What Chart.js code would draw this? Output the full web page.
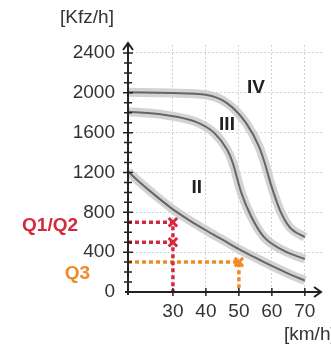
<!DOCTYPE html>
<html>
<head>
<meta charset="utf-8">
<script src="https://cdn.jsdelivr.net/npm/chart.js@4"></script>
<style>
  html, body { margin: 0; padding: 0; background: #fff; }
</style>
</head>
<body>
<canvas id="chart" width="331" height="347"></canvas>
<script>
// curve II / III / IV : speed [km/h] -> volume [Kfz/h]
const speedII = [16.4, 20, 25, 30, 35, 40, 45, 50, 55, 60, 65, 70];
const volumeII = [1210, 1100, 960, 830, 720, 620, 525, 430, 345, 262, 185, 115];
const speedIII = [16.4, 27.1, 36.8, 42.6, 46.4, 48, 50.8, 53.7, 57.5, 63.3, 70];
const volumeIII = [1810, 1780, 1710, 1595, 1430, 1310, 990, 760, 555, 420, 330];
const speedIV = [16.4, 30, 40, 46.4, 52.2, 56.1, 57.5, 59.9, 62.4, 65.3, 70];
const volumeIV = [2005, 1998, 1980, 1896, 1695, 1460, 1330, 1060, 825, 655, 550];

// operating points
const qSpeed = [30, 30, 50];
const qVolume = [700, 500, 300];

const xTicks = [30, 40, 50, 60, 70];
const yTicks = [0, 400, 800, 1200, 1600, 2000, 2400];

const X_MIN = 16.38;
const FONT = "'Liberation Sans', Arial, sans-serif";
const RED = "#d42a3e";
const ORANGE = "#ef8a25";

const pts = (xs, ys) => xs.map((v, i) => ({ x: v, y: ys[i] }));

const curves = [
  pts(speedII, volumeII),
  pts(speedIII, volumeIII),
  pts(speedIV, volumeIV),
];

const datasets = [];
curves.forEach((c) => {
  datasets.push({
    data: c,
    borderColor: "rgba(200,200,200,0.8)",
    borderWidth: 9,
    pointRadius: 0,
    cubicInterpolationMode: "monotone",
    order: 4,
  });
  datasets.push({
    data: c,
    borderColor: "#666",
    borderWidth: 2,
    pointRadius: 0,
    cubicInterpolationMode: "monotone",
    order: 3,
  });
});

// dotted guide lines
const guide = (i, down, color) => {
  const d = [{ x: X_MIN, y: qVolume[i] }, { x: qSpeed[i], y: qVolume[i] }];
  if (down) d.push({ x: qSpeed[i], y: 0 });
  return {
    data: d,
    borderColor: color,
    borderWidth: 3.5,
    borderDash: [4, 3],
    pointRadius: 0,
    tension: 0,
    order: 2,
  };
};
datasets.push(guide(0, true, RED));
datasets.push(guide(1, false, RED));
datasets.push(guide(2, true, ORANGE));

datasets.push({
  type: "scatter",
  data: pts(qSpeed, qVolume),
  pointStyle: "crossRot",
  pointRadius: 6,
  pointBorderWidth: 3,
  pointBorderColor: [RED, RED, ORANGE],
  order: 1,
});

const axisDecor = {
  id: "axisDecor",
  afterDatasetsDraw(chart) {
    const { ctx, chartArea, scales } = chart;
    const x = scales.x;
    const y = scales.y;
    const x0 = chartArea.left;
    const y0 = y.getPixelForValue(0);
    ctx.save();
    ctx.strokeStyle = "#222";
    ctx.lineWidth = 2;

    // axes
    ctx.beginPath();
    ctx.moveTo(x0, y0 + 3);
    ctx.lineTo(x0, chartArea.top - 2);
    ctx.moveTo(x0 - 3, y0);
    ctx.lineTo(chartArea.right - 1, y0);
    ctx.stroke();

    // arrow heads
    ctx.beginPath();
    ctx.moveTo(x0 - 5, chartArea.top + 5);
    ctx.lineTo(x0, chartArea.top - 2);
    ctx.lineTo(x0 + 5, chartArea.top + 5);
    ctx.moveTo(chartArea.right - 8, y0 - 5);
    ctx.lineTo(chartArea.right - 1, y0);
    ctx.lineTo(chartArea.right - 8, y0 + 5);
    ctx.stroke();

    // tick marks
    ctx.lineWidth = 1.5;
    ctx.beginPath();
    for (let v = 100; v <= yTicks[yTicks.length - 1]; v += 100) {
      const py = y.getPixelForValue(v);
      const len = v % 400 === 0 ? 5 : 4;
      ctx.moveTo(x0 - len, py);
      ctx.lineTo(x0 + len, py);
    }
    xTicks.forEach((v) => {
      const px = x.getPixelForValue(v);
      ctx.moveTo(px, y0 - 4);
      ctx.lineTo(px, y0 + 4);
    });
    ctx.stroke();

    // unit labels
    ctx.fillStyle = "#333";
    ctx.font = "19px " + FONT;
    ctx.textBaseline = "middle";
    ctx.textAlign = "center";
    ctx.fillText("[Kfz/h]", 87, 18);
    ctx.textAlign = "left";
    ctx.fillText("[km/h]", 284, 335);

    // curve names
    ctx.fillStyle = "#222";
    ctx.font = "bold 19px " + FONT;
    ctx.textAlign = "center";
    ctx.fillText("IV", x.getPixelForValue(55.2), y.getPixelForValue(2050));
    ctx.fillText("III", x.getPixelForValue(46.4), y.getPixelForValue(1680));
    ctx.fillText("II", x.getPixelForValue(37.2), y.getPixelForValue(1050));

    // Q labels
    ctx.textAlign = "right";
    ctx.fillStyle = RED;
    ctx.fillText("Q1/Q2", 78, y.getPixelForValue(670));
    ctx.fillStyle = ORANGE;
    ctx.fillText("Q3", 90, y.getPixelForValue(185));
    ctx.restore();
  },
};

new Chart(document.getElementById("chart"), {
  type: "line",
  data: { datasets },
  options: {
    responsive: false,
    animation: false,
    devicePixelRatio: 1,
    layout: { padding: { top: 45, left: 0, right: 0, bottom: 0 } },
    plugins: { legend: { display: false }, tooltip: { enabled: false } },
    scales: {
      x: {
        type: "linear",
        min: X_MIN,
        max: 75.2,
        afterBuildTicks: (s) => { s.ticks = xTicks.map((v) => ({ value: v })); },
        afterFit: (s) => { s.height = 55; },
        ticks: { color: "#333", font: { family: FONT, size: 19 }, padding: 8, maxRotation: 0, callback: (v) => String(v) },
        grid: { color: "#d4d4d4", drawTicks: false },
        border: { display: false, dash: [2, 2] },
      },
      y: {
        min: 0,
        max: 2480,
        afterBuildTicks: (s) => { s.ticks = yTicks.map((v) => ({ value: v })); },
        afterFit: (s) => { s.width = 128; },
        ticks: { color: "#333", font: { family: FONT, size: 19 }, padding: 13, callback: (v) => String(v) },
        grid: { color: (c) => (c.tick && c.tick.value === 0 ? "rgba(0,0,0,0)" : "#d4d4d4"), drawTicks: false },
        border: { display: false, dash: [2, 2] },
      },
    },
  },
  plugins: [axisDecor],
});
</script>
</body>
</html>
